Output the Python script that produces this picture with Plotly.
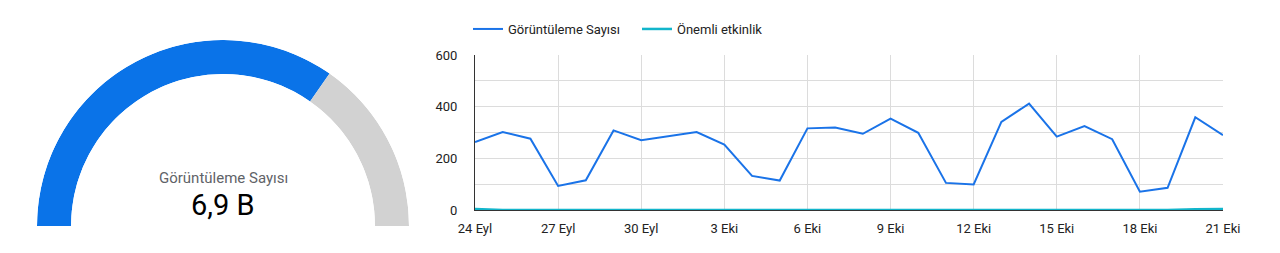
import plotly.graph_objects as go

# ---- data ----
dates = ["24 Eyl", "25 Eyl", "26 Eyl", "27 Eyl", "28 Eyl", "29 Eyl", "30 Eyl",
         "1 Eki", "2 Eki", "3 Eki", "4 Eki", "5 Eki", "6 Eki", "7 Eki", "8 Eki",
         "9 Eki", "10 Eki", "11 Eki", "12 Eki", "13 Eki", "14 Eki", "15 Eki",
         "16 Eki", "17 Eki", "18 Eki", "19 Eki", "20 Eki", "21 Eki"]
views = [263, 302, 276, 93, 115, 308, 270, 285, 302, 253, 132, 114, 316, 319,
         295, 354, 299, 105, 99, 341, 412, 284, 325, 274, 71, 86, 359, 290]
events = [4, 0, 0, 0, 0, 0, 0, 0, 0, 0, 0, 0, 0, 0, 0, 0, 0, 0, 0, 0, 0, 0,
          0, 0, 0, 0, 3, 4]
tick_labels = ["24 Eyl", "27 Eyl", "30 Eyl", "3 Eki", "6 Eki", "9 Eki",
               "12 Eki", "15 Eki", "18 Eki", "21 Eki"]
y_ticks = [0, 100, 200, 300, 400, 500, 600]
y_tick_text = ["0", "", "200", "", "400", "", "600"]
gauge_max = 10000
series_names = ["Görüntüleme Sayısı", "Önemli etkinlik"]

BLUE = "#1a73e8"
GAUGE_BLUE = "#0a73e8"
TEAL = "#12b5cb"
GREY = "#d2d2d2"
FONT = "Roboto"

total = sum(views)
frac = total / gauge_max
total_text = f"{total / 1000:.1f} B".replace(".", ",")

fig = go.Figure()

# ---- gauge (half donut via barpolar) ----
fig.add_trace(go.Barpolar(
    r=[1, 1], base=[0, 0],
    theta=[frac * 180 / 2, (frac * 180 + 180) / 2],
    width=[frac * 180, (1 - frac) * 180],
    marker=dict(color=[GAUGE_BLUE, GREY], line=dict(width=0)),
    showlegend=False, hoverinfo="skip", subplot="polar",
))

# ---- line chart ----
fig.add_trace(go.Scatter(x=dates, y=views, mode="lines", name=series_names[0],
                         line=dict(color=BLUE, width=2), cliponaxis=False,
                         xaxis="x", yaxis="y"))
fig.add_trace(go.Scatter(x=dates, y=events, mode="lines", name=series_names[1],
                         line=dict(color=TEAL, width=2.5), cliponaxis=False,
                         xaxis="x", yaxis="y"))

W, H = 1280, 253
fig.update_layout(
    width=W, height=H,
    margin=dict(l=0, r=0, t=0, b=0, pad=0, autoexpand=False),
    paper_bgcolor="white", plot_bgcolor="white",
    font=dict(family=FONT, size=13, color="#222222"),
    polar=dict(
        domain=dict(x=[37 / W, 409 / W], y=[(H - 226) / H, (H - 40) / H]),
        sector=[0, 180], hole=0.817, bgcolor="white",
        radialaxis=dict(visible=False, range=[0, 1]),
        angularaxis=dict(visible=False, direction="clockwise", rotation=180,
                         thetaunit="degrees"),
    ),
    xaxis=dict(
        domain=[475 / W, 1223 / W], type="category",
        categoryorder="array", categoryarray=dates,
        range=[0, len(dates) - 1],
        tickvals=tick_labels, ticktext=tick_labels,
        showgrid=True, gridcolor="#dcdcdc", gridwidth=1,
        showline=True, linecolor="#333333", linewidth=1,
        ticks="", ticklabelstandoff=6, zeroline=False, automargin=False,
        layer="below traces",
        tickfont=dict(size=13, color="#222222"),
    ),
    yaxis=dict(
        domain=[(H - 210) / H, (H - 55) / H], range=[0, 600],
        tickvals=y_ticks, ticktext=y_tick_text,
        showgrid=True, gridcolor="#dcdcdc", gridwidth=1,
        showline=True, linecolor="#333333", linewidth=1,
        ticks="", ticklabelstandoff=14, zeroline=False, automargin=False,
        layer="below traces",
        tickfont=dict(size=13, color="#222222"),
    ),
    legend=dict(orientation="h", x=468 / W, xanchor="left",
                y=(H - 29) / H, yanchor="middle",
                font=dict(size=13, color="#222222"),
                itemwidth=30, tracegroupgap=0, entrywidth=124),
    annotations=[
        dict(text=series_names[0], x=223 / W, y=(H - 178) / H, xref="paper",
             yref="paper", xanchor="center", yanchor="middle", showarrow=False,
             font=dict(size=15, color="#5f6368", family=FONT)),
        dict(text=total_text, x=223 / W, y=(H - 205) / H, xref="paper",
             yref="paper", xanchor="center", yanchor="middle", showarrow=False,
             font=dict(size=29, color="#000000", family=FONT)),
    ],
)

fig.write_html("out.html")
